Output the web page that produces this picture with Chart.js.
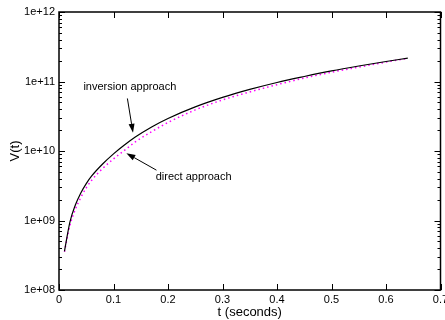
<!DOCTYPE html>
<html>
<head>
<meta charset="utf-8">
<script src="https://cdn.jsdelivr.net/npm/chart.js@4/dist/chart.umd.min.js"></script>
<style>
  html, body { margin: 0; padding: 0; background: #fff; }
  #wrap { width: 445px; height: 320px; }
</style>
</head>
<body>
<div id="wrap"><canvas id="c"></canvas></div>
<script>
// time samples (seconds)
const times = [0.01, 0.02, 0.03, 0.04, 0.05, 0.06, 0.08, 0.10, 0.12, 0.14, 0.17,
               0.20, 0.25, 0.30, 0.35, 0.40, 0.45, 0.50, 0.55, 0.60, 0.64];
// V(t), inversion approach (solid black)
const inversion = [3.6e8, 9.5e8, 1.67e9, 2.49e9, 3.4e9, 4.38e9, 6.5e9, 9.1e9, 1.22e10, 1.59e10, 2.22e10,
                   2.94e10, 4.31e10, 5.9e10, 7.69e10, 9.68e10, 1.18e11, 1.42e11, 1.67e11, 1.94e11, 2.17e11];
// V(t), direct approach (magenta dots)
const direct = [3.55e8, 8.5e8, 1.45e9, 2.14e9, 2.95e9, 3.8e9, 5.6e9, 7.7e9, 1.02e10, 1.35e10, 1.9e10,
                2.57e10, 3.9e10, 5.43e10, 7.08e10, 9.0e10, 1.12e11, 1.36e11, 1.61e11, 1.9e11, 2.15e11];

const xTicks = [0, 0.1, 0.2, 0.3, 0.4, 0.5, 0.6, 0.7];
const xTickLabels = ['0', '0.1', '0.2', '0.3', '0.4', '0.5', '0.6', '0.7'];
const yTicks = [1e8, 1e9, 1e10, 1e11, 1e12];
const yTickLabels = ['1e+08', '1e+09', '1e+10', '1e+11', '1e+12'];

// labels with arrows, in data units
const notes = [
  {text: 'inversion approach', align: 'center', at: [0.13, 8.3e10], from: [0.1255, 5.7e10], to: [0.1358, 1.83e10]},
  {text: 'direct approach', align: 'left', at: [0.1775, 4.2e9], from: [0.1788, 5.3e9], to: [0.1236, 9.3e9]}
];

const FONT = '"Liberation Sans", Arial, Helvetica, sans-serif';

const frame = {
  id: 'frame',
  afterDatasetsDraw(chart) {
    const {ctx, chartArea: a, scales: {x, y}} = chart;
    ctx.save();
    ctx.strokeStyle = '#000';
    ctx.lineWidth = 1;
    ctx.beginPath();
    xTicks.forEach(v => {
      const px = Math.round(x.getPixelForValue(v)) + 0.5;
      ctx.moveTo(px, a.bottom); ctx.lineTo(px, a.bottom - 6);
      ctx.moveTo(px, a.top); ctx.lineTo(px, a.top + 6);
    });
    yTicks.forEach((d, i) => {
      for (let m = 1; m <= 9; m++) {
        if (m > 1 && i === yTicks.length - 1) break;
        const py = Math.round(y.getPixelForValue(d * m)) + 0.5;
        const len = m === 1 ? 6 : 3;
        ctx.moveTo(a.left, py); ctx.lineTo(a.left + len, py);
        ctx.moveTo(a.right, py); ctx.lineTo(a.right - len, py);
      }
    });
    ctx.stroke();
    ctx.lineWidth = 1.5;
    ctx.strokeRect(a.left, a.top, a.right - a.left, a.bottom - a.top);

    // annotations
    ctx.fillStyle = '#000';
    ctx.font = '11px ' + FONT;
    ctx.textBaseline = 'middle';
    notes.forEach(n => {
      ctx.textAlign = n.align;
      ctx.fillText(n.text, x.getPixelForValue(n.at[0]), y.getPixelForValue(n.at[1]));
      const x0 = x.getPixelForValue(n.from[0]), y0 = y.getPixelForValue(n.from[1]);
      const x1 = x.getPixelForValue(n.to[0]), y1 = y.getPixelForValue(n.to[1]);
      const ang = Math.atan2(y1 - y0, x1 - x0);
      const hl = 9, hw = 3;
      ctx.lineWidth = 1;
      ctx.beginPath();
      ctx.moveTo(x0, y0);
      ctx.lineTo(x1 - hl * Math.cos(ang), y1 - hl * Math.sin(ang));
      ctx.stroke();
      ctx.beginPath();
      ctx.moveTo(x1, y1);
      ctx.lineTo(x1 - hl * Math.cos(ang) + hw * Math.sin(ang), y1 - hl * Math.sin(ang) - hw * Math.cos(ang));
      ctx.lineTo(x1 - hl * Math.cos(ang) - hw * Math.sin(ang), y1 - hl * Math.sin(ang) + hw * Math.cos(ang));
      ctx.closePath();
      ctx.fill();
    });
    ctx.restore();
  }
};

new Chart(document.getElementById('c'), {
  type: 'line',
  data: {
    datasets: [
      {
        label: 'inversion approach',
        data: times.map((t, i) => ({x: t, y: inversion[i]})),
        borderColor: '#000',
        borderWidth: 1.2,
        pointRadius: 0,
        cubicInterpolationMode: 'monotone'
      },
      {
        label: 'direct approach',
        data: times.map((t, i) => ({x: t, y: direct[i]})),
        borderColor: '#ff00ff',
        borderWidth: 1.5,
        borderDash: [1.5, 3],
        pointRadius: 0,
        cubicInterpolationMode: 'monotone'
      }
    ]
  },
  options: {
    responsive: true,
    maintainAspectRatio: false,
    animation: false,
    layout: {padding: {top: 12, right: 4.5, left: 0, bottom: 0}},
    plugins: {legend: {display: false}, tooltip: {enabled: false}},
    scales: {
      x: {
        type: 'linear',
        min: 0, max: 0.7,
        grid: {display: false, drawTicks: false},
        border: {display: false},
        afterBuildTicks: s => { s.ticks = xTicks.map(v => ({value: v})); },
        afterFit: s => { s.height = 30; s.paddingLeft = 0; s.paddingRight = 0; },
        ticks: {
          padding: 3,
          maxRotation: 0,
          color: '#000',
          font: {family: FONT, size: 11},
          callback: (v, i) => xTickLabels[i]
        },
        title: {display: true, text: 't (seconds)', color: '#000',
                font: {family: FONT, size: 13}, padding: {top: 1, bottom: 0}}
      },
      y: {
        type: 'logarithmic',
        min: 1e8, max: 1e12,
        grid: {display: false, drawTicks: false},
        border: {display: false},
        afterBuildTicks: s => { s.ticks = yTicks.map(v => ({value: v})); },
        afterFit: s => { s.width = 59; s.paddingTop = 0; s.paddingBottom = 0; },
        ticks: {
          padding: 4,
          color: '#000',
          font: {family: FONT, size: 11},
          callback: (v, i) => yTickLabels[i]
        },
        title: {display: true, text: 'V(t)', color: '#000',
                font: {family: FONT, size: 13}, padding: {top: 8, bottom: 0}}
      }
    }
  },
  plugins: [frame]
});
</script>
</body>
</html>
